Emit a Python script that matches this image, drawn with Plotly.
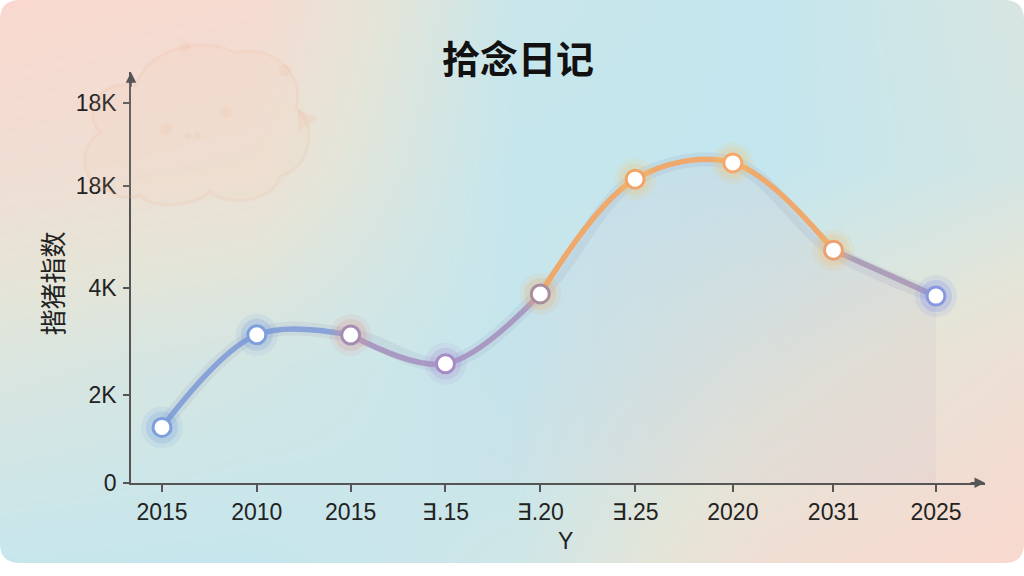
import plotly.graph_objects as go

# 数据
TITLE = "拾念日记"
Y_TITLE = "揩猪指数"
X_TITLE = "Y"
X_LABELS = ["2015", "2010", "2015", "∃.15", "∃.20", "∃.25", "2020", "2031", "2025"]
X_POS = [0, 0.98, 1.95, 2.93, 3.91, 4.89, 5.90, 6.94, 8.0]
VALUES = [1140, 3045, 3040, 2450, 3885, 6245, 6580, 4785, 3840]
Y_TICKS = [0, 1810, 4010, 6100, 7820]
Y_TICK_TEXT = ["0", "2K", "4K", "18K", "18K"]

W, H = 1024, 576
# 坐标区在画面上的像素位置
PX_L, PX_R, PX_B, PX_T = 131, 985, 494, 74

RING = ["#7d9fdb", "#7d9fdb", "#a58db2", "#a68cc4", "#a98d9c",
        "#f2a467", "#f4a86a", "#eda070", "#8797e0"]
GLOW = ["rgba(120,155,220,{a})", "rgba(120,155,220,{a})", "rgba(225,150,150,{a})",
        "rgba(170,140,210,{a})", "rgba(240,170,110,{a})", "rgba(245,195,110,{a})",
        "rgba(245,195,110,{a})", "rgba(240,190,110,{a})", "rgba(120,140,235,{a})"]
# 线段颜色: (起点, 终点, 颜色)
SEGMENTS = [(0, 2, "#87a3d8"), (2, 4, "#a99ac4"), (4, 7, "#f0a96c"), (7, 8, "#ad9fba")]

FONT = "Liberation Sans, Arial, sans-serif"
CJK = "Noto Sans CJK SC"


def dom(px, py):
    return (px - PX_L) / (PX_R - PX_L), (PX_B - py) / (PX_B - PX_T)


def path(cmds):
    out = []
    for c in cmds:
        if isinstance(c, str):
            out.append(c)
        else:
            x, y = dom(*c)
            out.append(f"{x:.4f},{y:.4f}")
    return " ".join(out)


fig = go.Figure()

# 背景渐变
bg_x = [0, 0.25, 0.5, 0.75, 1]
bg_y = [0, 0.35, 0.7, 1]
bg_z = [
    [0.12, 0.1, 0.22, 0.8, 1.0],
    [0.4, 0.28, 0.1, 0.45, 0.75],
    [0.8, 0.72, 0.1, 0.08, 0.3],
    [1.0, 0.92, 0.15, 0.08, 0.35],
]
fig.add_trace(go.Heatmap(
    x=bg_x, y=bg_y, z=bg_z, zsmooth="best", showscale=False, hoverinfo="skip",
    colorscale=[[0, "#c4e6ee"], [0.5, "#e4e5d8"], [1, "#f9d8cf"]],
    xaxis="x", yaxis="y",
))

# 线下阴影 + 面积填充
fig.add_trace(go.Scatter(
    x=X_POS, y=VALUES, mode="lines", line_shape="spline",
    line=dict(color="rgba(120,120,170,0.10)", width=14),
    fill="tozeroy",
    fillgradient=dict(type="horizontal", start=2.5, stop=8,
                      colorscale=[[0, "rgba(195,190,215,0)"],
                                  [0.4, "rgba(200,192,212,0.16)"],
                                  [1, "rgba(212,200,205,0.28)"]]),
    hoverinfo="skip", xaxis="x2", yaxis="y2",
))

# 主线（分段着色）
for i0, i1, color in SEGMENTS:
    fig.add_trace(go.Scatter(
        x=X_POS[i0:i1 + 1], y=VALUES[i0:i1 + 1], mode="lines", line_shape="spline",
        line=dict(color=color, width=5.5), hoverinfo="skip",
        xaxis="x2", yaxis="y2",
    ))

# 光晕
for size, a in [(42, 0.12), (32, 0.22)]:
    fig.add_trace(go.Scatter(
        x=X_POS, y=VALUES, mode="markers",
        marker=dict(size=size, color=[g.format(a=a) for g in GLOW], line_width=0),
        hoverinfo="skip", xaxis="x2", yaxis="y2",
    ))

# 数据点
fig.add_trace(go.Scatter(
    x=X_POS, y=VALUES, mode="markers",
    marker=dict(size=18, color="white", line=dict(color=RING, width=3)),
    customdata=X_LABELS, hovertemplate="%{customdata}: %{y}<extra></extra>",
    xaxis="x2", yaxis="y2",
))

# 左上角的云朵装饰
cloud = path([
    "M", (112, 196),
    "C", (82, 192), (74, 152), (100, 136),
    "C", (80, 110), (102, 80), (136, 88),
    "C", (146, 50), (202, 36), (236, 54),
    "C", (272, 44), (306, 76), (296, 110),
    "C", (322, 132), (306, 176), (280, 180),
    "C", (274, 206), (230, 212), (210, 196),
    "C", (194, 212), (150, 214), (140, 200),
    "C", (130, 204), (116, 202), (112, 196), "Z",
])
ear = path(["M", (297, 112), "L", (318, 121), "L", (299, 134), "Z"])
shapes = [
    dict(type="path", path=cloud, xref="x2 domain", yref="y2 domain", layer="above",
         fillcolor="rgba(250,205,175,0.10)", line=dict(color="rgba(240,180,145,0.14)", width=3)),
    dict(type="path", path=ear, xref="x2 domain", yref="y2 domain", layer="above",
         fillcolor="rgba(240,175,140,0.16)", line_width=0),
]
for cx, cy, r in [(166, 132, 6), (226, 115, 6), (188, 139, 3.5), (197, 139, 3.5), (185, 48, 5), (285, 72, 6)]:
    x0, y0 = dom(cx - r, cy + r)
    x1, y1 = dom(cx + r, cy - r)
    shapes.append(dict(type="circle", xref="x2 domain", yref="y2 domain", layer="above",
                       x0=x0, y0=y0, x1=x1, y1=y1,
                       fillcolor="rgba(240,175,140,0.14)", line_width=0))

# 圆角
R = 20
rx, ry = R / W, R / H
for (cx, cy, sx, sy) in [(0, 1, 1, -1), (1, 1, -1, -1), (0, 0, 1, 1), (1, 0, -1, 1)]:
    shapes.append(dict(
        type="path", xref="paper", yref="paper", layer="above",
        path=f"M {cx},{cy} L {cx + sx * rx},{cy} Q {cx},{cy} {cx},{cy + sy * ry} Z",
        fillcolor="white", line_width=0,
    ))

axis_common = dict(
    showline=True, linecolor="#555555", linewidth=1.5,
    ticks="outside", tickcolor="#555555", tickwidth=1.5,
    showgrid=False, zeroline=False,
    tickfont=dict(family=FONT, size=23, color="#222222"),
)

fig.update_layout(
    width=W, height=H,
    margin=dict(l=0, r=0, t=0, b=0),
    paper_bgcolor="white",
    plot_bgcolor="rgba(0,0,0,0)",
    showlegend=False,
    title=dict(text=TITLE, x=518 / W, y=1 - 60 / H, xanchor="center", yanchor="middle",
               font=dict(family=CJK, size=38, color="#111111", weight="bold")),
    xaxis=dict(domain=[0, 1], range=[0, 1], visible=False, fixedrange=True),
    yaxis=dict(domain=[0, 1], range=[0, 1], visible=False, fixedrange=True),
    xaxis2=dict(domain=[PX_L / W, PX_R / W], anchor="y2",
                range=[-31 / 96.75, (PX_R - 162) / 96.75],
                tickvals=X_POS, ticktext=X_LABELS, ticklen=7, ticklabelstandoff=1,
                **axis_common),
    yaxis2=dict(domain=[1 - PX_B / H, 1 - PX_T / H], anchor="x2",
                range=[0, (PX_B - PX_T) / 0.04975],
                tickvals=Y_TICKS, ticktext=Y_TICK_TEXT, ticklen=6, ticklabelstandoff=2,
                **axis_common),
    shapes=shapes,
    annotations=[
        dict(xref="x2 domain", yref="y2 domain", x=1, y=0, ax=-16, ay=0, text="",
             showarrow=True, arrowhead=2, arrowsize=1.4, arrowwidth=1.5, arrowcolor="#555555"),
        dict(xref="x2 domain", yref="y2 domain", x=0, y=1, ax=0, ay=16, text="",
             showarrow=True, arrowhead=2, arrowsize=1.4, arrowwidth=1.5, arrowcolor="#555555"),
        dict(xref="paper", yref="paper", x=51 / W, y=1 - 290 / H, text=Y_TITLE,
             textangle=-90, showarrow=False, xanchor="center", yanchor="middle",
             font=dict(family=CJK, size=26, color="#222222")),
        dict(xref="paper", yref="paper", x=565 / W, y=1 - 553 / H, text=X_TITLE,
             showarrow=False, xanchor="center", yanchor="middle",
             font=dict(family=FONT, size=23, color="#222222")),
    ],
)

# 页面边距归零，让图正好铺满窗口
post = (
    "var s=document.documentElement.style;s.margin='0';s.overflow='hidden';"
    "var b=document.body.style;b.margin='0';b.overflow='hidden';"
)
fig.write_html("out.html", config={"displayModeBar": False}, post_script=post)
